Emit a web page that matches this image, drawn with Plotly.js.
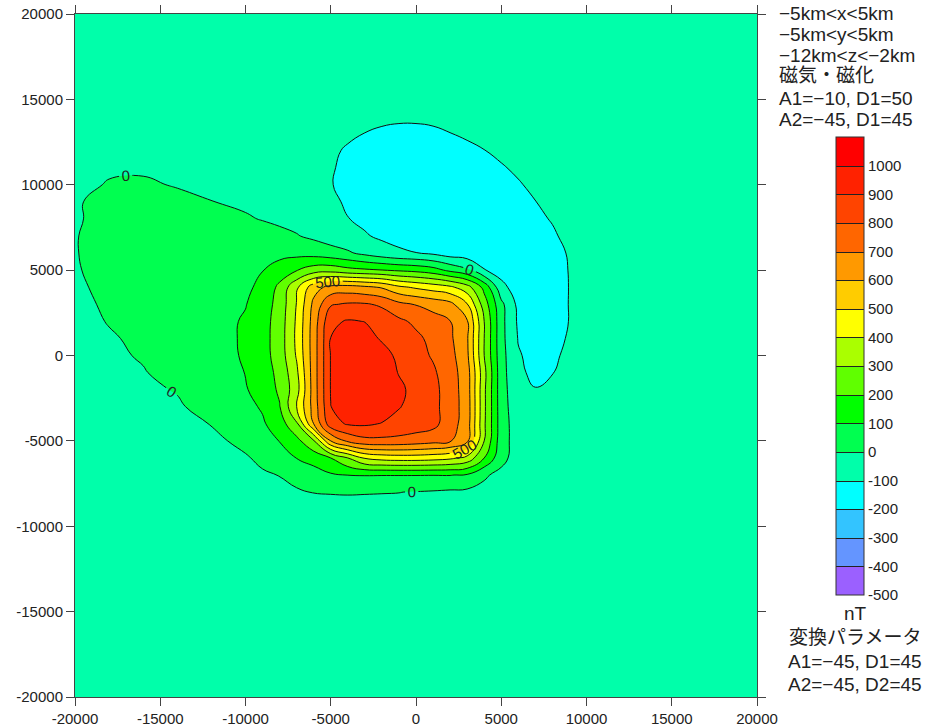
<!DOCTYPE html>
<html>
<head>
<meta charset="utf-8">
<script src="https://cdn.plot.ly/plotly-3.0.1.min.js"></script>
<style>html,body{margin:0;padding:0;background:#fff;}#chart{width:935px;height:727px;}</style>
</head>
<body>
<div id="chart"></div>
<script>
// Grid coordinates (m)
const xCoords = [-20000,-18000,-16000,-14000,-12000,-10000,-9000,-8000,-7000,-6000,-5000,-4000,-3000,-2000,-1000,0,1000,2000,3000,4000,5000,6000,7000,8000,9000,10000,12000,20000];
const yCoords = [-20000,-12000,-10000,-9000,-8000,-7000,-6000,-5000,-4000,-3000,-2000,-1000,0,1000,2000,3000,4000,5000,6000,7000,8000,9000,10000,11000,12000,13000,14000,20000];

// Anomaly values (nT), one row per y value
const anomalyRows = [
[-20,-21,-22,-23,-24,-24,-25,-25,-25,-25,-25,-25,-25,-25,-25,-25,-25,-25,-25,-25,-25,-24,-24,-24,-23,-22,-21,-18],
[-28,-28,-29,-29,-29,-29,-29,-29,-29,-29,-28,-28,-28,-28,-28,-28,-29,-29,-29,-29,-29,-29,-29,-29,-28,-27,-25,-20],
[-30,-30,-30,-30,-30,-30,-29,-29,-28,-27,-26,-25,-25,-25,-26,-27,-28,-29,-30,-31,-32,-33,-33,-33,-32,-30,-27,-20],
[-30,-30,-30,-30,-30,-29,-28,-27,-25,-22,-20,-19,-19,-19,-20,-22,-24,-26,-28,-30,-33,-35,-36,-36,-35,-32,-28,-20],
[-30,-30,-30,-30,-29,-27,-25,-20,-12,2,3,4,3,2,1,-3,-8,-15,-20,-25,-32,-36,-38,-38,-36,-33,-28,-20],
[-30,-30,-29,-28,-26,-20,-10,2,35,55,88,101,104,103,103,103,102,103,90,12,-25,-40,-45,-44,-40,-36,-30,-20],
[-30,-30,-29,-27,-22,-8,18,50,102,140,200,300,410,440,450,450,440,420,370,200,30,-45,-55,-54,-50,-43,-33,-20],
[-30,-30,-28,-26,-20,22,60,103,170,290,600,720,770,775,770,755,735,710,620,300,40,-45,-55,-55,-50,-43,-32,-20],
[-30,-28,-24,-14,2,55,88,150,285,600,860,910,915,895,870,850,830,745,650,315,45,-52,-66,-62,-54,-45,-33,-20],
[-30,-25,-18,-8,25,75,110,195,400,640,898,960,970,960,905,868,830,750,655,320,42,-62,-80,-72,-60,-48,-34,-20],
[-30,-22,-12,4,50,92,145,214,360,648,905,965,975,965,920,870,830,750,650,320,40,-72,-97,-85,-68,-52,-36,-20],
[-28,-18,-4,25,58,102,155,225,380,650,905,962,972,955,895,855,815,745,645,330,38,-85,-118,-102,-78,-57,-38,-20],
[-25,-12,6,30,60,110,160,245,410,650,905,955,965,935,880,835,790,735,620,300,35,-92,-128,-112,-85,-60,-40,-20],
[-22,-6,12,36,62,112,162,248,420,650,902,945,935,890,845,820,775,718,612,300,30,-105,-135,-125,-92,-65,-42,-20],
[-20,3,16,38,62,110,160,245,415,645,880,908,898,860,820,780,740,702,610,300,30,-115,-140,-132,-98,-70,-45,-20],
[-12,7,18,38,58,96,150,235,405,625,790,812,810,785,725,695,665,630,505,250,25,-125,-148,-140,-97,-72,-47,-20],
[-6,9,20,35,52,80,125,222,380,560,630,640,620,590,520,485,455,420,340,170,-70,-150,-160,-150,-97,-75,-48,-20],
[-2,8,18,32,48,78,97,147,195,250,260,230,215,202,185,170,140,75,20,-95,-140,-160,-165,-150,-95,-72,-48,-20],
[-1,8,15,26,38,55,62,68,70,60,38,14,-25,-60,-85,-98,-118,-150,-160,-160,-165,-165,-155,-130,-92,-68,-46,-20],
[-1,8,14,22,28,30,26,18,5,-18,-45,-72,-92,-115,-130,-140,-150,-158,-162,-162,-160,-152,-138,-110,-80,-62,-44,-20],
[-2,6,12,16,15,6,-3,-14,-28,-48,-72,-98,-118,-135,-148,-155,-160,-162,-160,-155,-145,-130,-115,-95,-72,-58,-42,-20],
[-2,6,9,8,1,-10,-18,-28,-42,-62,-85,-110,-130,-145,-155,-160,-160,-157,-150,-140,-127,-113,-101,-82,-65,-54,-40,-20],
[-12,3,4,-2,-10,-18,-24,-32,-45,-65,-97,-118,-135,-148,-155,-158,-155,-150,-140,-128,-116,-104,-90,-76,-62,-52,-38,-20],
[-14,-6,-4,-8,-14,-22,-28,-36,-48,-68,-94,-115,-130,-140,-146,-148,-145,-138,-128,-117,-104,-92,-80,-68,-58,-50,-37,-20],
[-15,-10,-10,-13,-17,-24,-30,-38,-50,-68,-88,-108,-122,-130,-134,-134,-130,-122,-112,-101,-90,-80,-70,-61,-53,-47,-36,-20],
[-16,-12,-12,-15,-19,-25,-30,-37,-46,-58,-72,-88,-101,-110,-114,-114,-110,-101,-92,-84,-76,-68,-61,-55,-50,-45,-35,-20],
[-17,-13,-13,-16,-20,-25,-29,-34,-41,-50,-60,-70,-79,-86,-90,-90,-87,-82,-76,-70,-64,-58,-53,-49,-45,-41,-33,-20],
[-15,-15,-16,-17,-18,-19,-20,-20,-21,-22,-23,-24,-25,-26,-26,-26,-26,-25,-25,-24,-23,-22,-21,-20,-19,-19,-18,-15]
];

// Colour bands (lower bound of each band) and colours
const bandLevels = [-500,-400,-300,-200,-100,0,100,200,300,400,500,600,700,800,900,1000];
const bandColors = ['#9b60ff','#6495ff','#33c4ff','#00ffff','#00ffaa','#00ff50','#00ff00','#60ff00','#aaff00','#ffff00','#ffcc00','#ff9900','#ff6600','#ff4400','#ff2200','#ff0000'];

const axisTicks = [-20000,-15000,-10000,-5000,0,5000,10000,15000,20000];
const axisTickText = axisTicks.map(v => String(v));
const barTickText = bandLevels.map(v => String(v));

const topNotes = ['−5km<x<5km','−5km<y<5km','−12km<z<−2km','磁気・磁化','A1=−10, D1=50','A2=−45, D1=45'];
const bottomNotes = ['nT','変換パラメータ','A1=−45, D1=45','A2=−45, D2=45'];

const colorscale = bandColors.map((c, i) => [i / (bandColors.length - 1), c]);
const FONT = 'Liberation Sans, Arial, "Noto Sans CJK JP", sans-serif';

// plot area pixels
const PL = 75, PR = 757, PT = 14, PB = 697;
const px2x = p => (p - PL) / (PR - PL);
const py2y = p => (PB - p) / (PB - PT);

const SMOOTH = 1.3;
const base = {type:'contour', x:xCoords, y:yCoords, z:anomalyRows, autocontour:false, hoverinfo:'skip', showscale:false};

const fillTrace = Object.assign({}, base, {
  contours:{start:-400, end:1000, size:100, coloring:'fill', showlines:false},
  line:{width:0, smoothing:SMOOTH},
  colorscale:colorscale, zmin:-500, zmax:1100
});
const lineStyle = {color:'#111', width:1, smoothing:SMOOTH};
const linesNeg = Object.assign({}, base, {contours:{start:-100, end:-100, size:100, coloring:'none'}, line:lineStyle});
const linesLow = Object.assign({}, base, {contours:{start:100, end:400, size:100, coloring:'none'}, line:lineStyle});
const linesHigh = Object.assign({}, base, {contours:{start:600, end:900, size:100, coloring:'none'}, line:lineStyle});
// labelled 0 and 500 lines (the extra empty levels above the data only make Plotly place labels more densely)
const linesLabel = Object.assign({}, base, {contours:{start:0, end:27000, size:500, coloring:'none', showlabels:true, labelformat:'d', labelfont:{family:FONT, size:15, color:'#222'}}, line:lineStyle});

// off-screen copy that only supplies the colour bar (with band lines)
const barTrace = Object.assign({}, base, {
  xaxis:'x2', yaxis:'y2',
  contours:{start:-400, end:1000, size:100, coloring:'fill', showlines:true},
  line:{color:'#222', width:1},
  colorscale:colorscale, zmin:-500, zmax:1100, showscale:true,
  colorbar:{
    x:px2x(836), xanchor:'left', y:py2y(366), yanchor:'middle',
    thickness:28, thicknessmode:'pixels', len:458, lenmode:'pixels',
    outlinewidth:1, outlinecolor:'#333', borderwidth:0, xpad:0, ypad:0,
    tickvals:bandLevels, ticktext:barTickText, ticks:'',
    tickfont:{family:FONT, size:15, color:'#222'}
  }
});

const ann = [];
const topY = [13,34,55,76,98,120];
topNotes.forEach((t, i) => ann.push({xref:'paper', yref:'paper', x:px2x(777), y:py2y(topY[i]), xanchor:'left', yanchor:'middle', text:t, showarrow:false, font:{family:FONT, size:19, color:'#222'}}));
const botY = [613,637,661,684];
bottomNotes.forEach((t, i) => ann.push({xref:'paper', yref:'paper', x:px2x(855), y:py2y(botY[i]), xanchor:'center', yanchor:'middle', text:t, showarrow:false, font:{family:FONT, size:19, color:'#222'}}));

const axisCommon = {range:[-20000,20000], tickvals:axisTicks, ticktext:axisTickText, ticks:'outside', ticklen:8, tickcolor:'#444', showline:true, linecolor:'#444', linewidth:1, mirror:'ticks', showgrid:false, zeroline:false, tickfont:{family:FONT, size:15, color:'#222'}};

const layout = {
  width:935, height:727,
  margin:{l:PL, r:935-PR, t:PT, b:727-PB},
  paper_bgcolor:'#fff', plot_bgcolor:'#fff',
  xaxis:Object.assign({}, axisCommon),
  yaxis:Object.assign({}, axisCommon),
  xaxis2:{overlaying:'x', visible:false, range:[500000,600000]},
  yaxis2:{overlaying:'y', visible:false, range:[500000,600000]},
  annotations:ann,
  showlegend:false
};

Plotly.newPlot('chart', [fillTrace, linesNeg, linesLow, linesHigh, linesLabel, barTrace], layout, {displayModeBar:false, staticPlot:true});
</script>
</body>
</html>
